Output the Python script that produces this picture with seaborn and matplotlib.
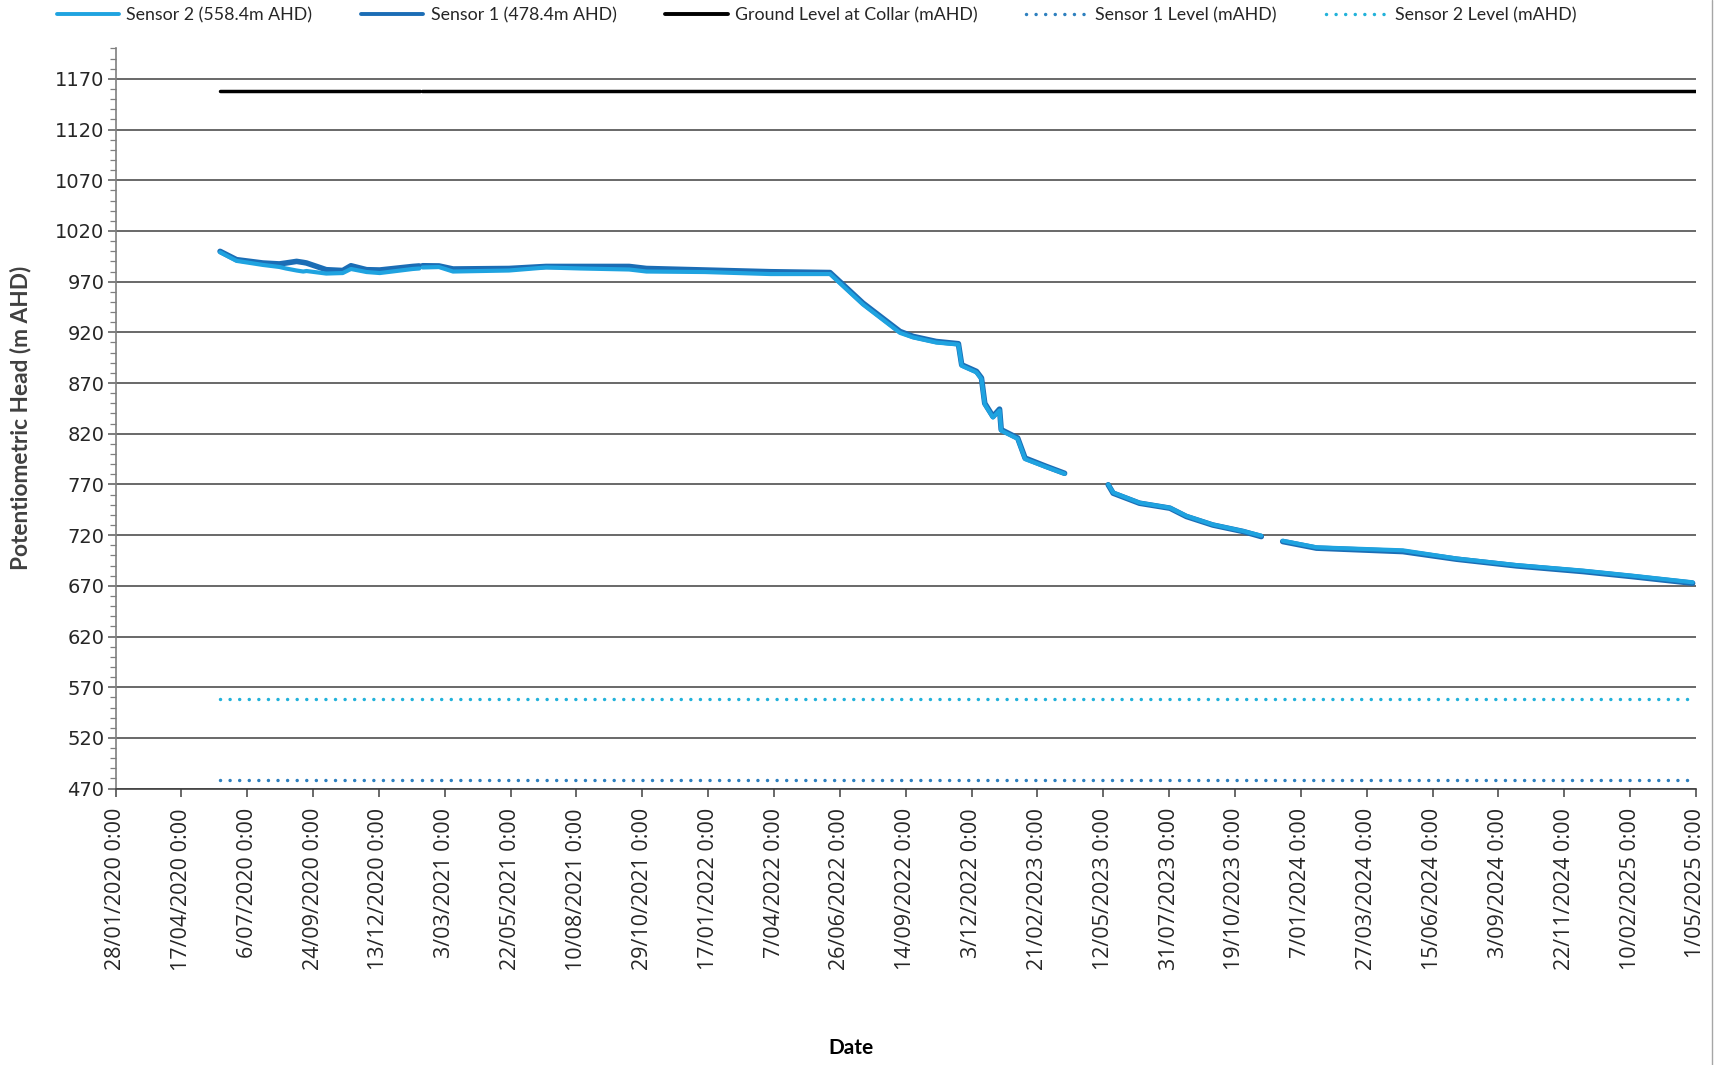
import pandas as pd
import numpy as np
import matplotlib
matplotlib.use('Agg')
import matplotlib.pyplot as plt
from matplotlib.lines import Line2D
from matplotlib.ticker import FixedLocator, MultipleLocator
import seaborn as sns

# Readings taken off the logger plot (None = logger gap)
reading_dates = [
    '2020-06-03', '2020-06-23', '2020-07-25', '2020-08-14', '2020-08-22', '2020-09-04',
    '2020-09-12', '2020-09-16', '2020-10-10', '2020-10-30', '2020-11-09', '2020-11-28',
    '2020-12-14', '2021-01-23', '2021-01-31',
    '2021-02-02',
    '2021-02-04', '2021-02-24', '2021-03-13', '2021-05-20', '2021-07-04', '2021-08-15',
    '2021-10-13', '2021-11-03', '2022-01-13', '2022-04-03', '2022-06-14', '2022-07-24',
    '2022-09-07', '2022-09-23', '2022-10-21', '2022-11-17', '2022-11-21', '2022-12-09',
    '2022-12-15', '2022-12-19', '2022-12-29', '2023-01-06', '2023-01-08', '2023-01-28',
    '2023-02-06', '2023-03-04', '2023-03-26',
    '2023-04-20',
    '2023-05-18', '2023-05-24', '2023-06-25', '2023-08-01', '2023-08-21', '2023-09-22',
    '2023-10-29', '2023-11-20',
    '2023-12-05',
    '2023-12-16', '2024-01-26', '2024-05-10', '2024-07-14', '2024-09-25', '2024-12-15',
    '2025-02-13', '2025-04-27',
]
sensor1_head = [
    999.9, 991.7, 988.4, 987.5, 988.4, 990.0,
    989.0, 988.4, 981.8, 981.0, 985.7, 981.8,
    981.5, 985.0, 985.5,
    None,
    985.7, 985.5, 982.5, 983.0, 985.0, 985.0,
    985.0, 983.0, 981.5, 979.8, 979.0, 948.9,
    920.9, 916.0, 911.0, 908.8, 888.0, 881.5,
    875.0, 850.0, 837.0, 844.3, 824.0, 815.8,
    796.0, 787.7, 781.0,
    None,
    769.7, 761.4, 751.5, 746.6, 738.4, 730.0,
    723.6, 718.6,
    None,
    713.7, 707.2, 703.8, 696.3, 689.7, 684.1,
    679.1, 672.6,
]
sensor2_head = [
    999.0, 990.5, 986.5, 984.5, 983.0, 981.0,
    980.0, 980.5, 978.0, 978.5, 982.5, 979.5,
    978.5, 982.5, 983.0,
    None,
    984.0, 984.4, 980.0, 981.0, 984.0, 983.0,
    982.0, 980.0, 979.5, 977.5, 977.5, 947.5,
    919.5, 915.0, 910.0, 908.0, 887.0, 880.5,
    874.0, 849.0, 836.0, 843.0, 823.0, 815.0,
    795.0, 787.0, 780.5,
    None,
    770.0, 762.0, 752.0, 747.0, 739.0, 730.5,
    724.0, 719.5,
    None,
    714.5, 708.0, 705.0, 697.0, 690.5, 685.0,
    680.0, 673.5,
]

level_dates = ['2020-06-03', '2021-02-01', '2021-02-02', '2021-02-03', '2025-05-01']
ground_level = [1158.4, 1158.4, None, 1158.4, 1158.4]
sensor1_level = [478.4, 478.4, None, 478.4, 478.4]
sensor2_level = [558.4, 558.4, None, 558.4, 558.4]

tick_dates = [
    '28/01/2020', '17/04/2020', '6/07/2020', '24/09/2020', '13/12/2020', '3/03/2021',
    '22/05/2021', '10/08/2021', '29/10/2021', '17/01/2022', '7/04/2022', '26/06/2022',
    '14/09/2022', '3/12/2022', '21/02/2023', '12/05/2023', '31/07/2023', '19/10/2023',
    '7/01/2024', '27/03/2024', '15/06/2024', '3/09/2024', '22/11/2024', '10/02/2025',
    '1/05/2025',
]
y_ticks = [470, 520, 570, 620, 670, 720, 770, 820, 870, 920, 970, 1020, 1070, 1120, 1170]

s1_color = '#1b6db5'
s2_color = '#1fa3e0'
s1_level_color = '#2e80bf'
s2_level_color = '#22b2da'

sns.set_theme(style='white')
plt.rcParams['font.family'] = ['Lato', 'DejaVu Sans']


def to_frame(dates, values):
    df = pd.DataFrame({'date': pd.to_datetime(dates),
                       'head': pd.Series(values, dtype='float')})
    # each run between gaps is drawn as its own unit
    df['segment'] = df['head'].isna().cumsum()
    return df.dropna()


fig = plt.figure(figsize=(17.27, 10.65), dpi=100)
ax = fig.add_axes([0.0669, 0.2595, 0.9151, 0.695])

dot = (0, (0.01, 2.75))
sns.lineplot(data=to_frame(level_dates, sensor1_level), x='date', y='head', units='segment',
             estimator=None, color=s1_level_color, linewidth=2.5, linestyle=dot,
             dash_capstyle='round', ax=ax, legend=False)
sns.lineplot(data=to_frame(level_dates, sensor2_level), x='date', y='head', units='segment',
             estimator=None, color=s2_level_color, linewidth=2.5, linestyle=dot,
             dash_capstyle='round', ax=ax, legend=False)
sns.lineplot(data=to_frame(level_dates, ground_level), x='date', y='head', units='segment',
             estimator=None, color='black', linewidth=2.5, ax=ax, legend=False)
sns.lineplot(data=to_frame(reading_dates, sensor1_head), x='date', y='head', units='segment',
             estimator=None, color=s1_color, linewidth=4.0, ax=ax, legend=False)
sns.lineplot(data=to_frame(reading_dates, sensor2_head), x='date', y='head', units='segment',
             estimator=None, color=s2_color, linewidth=3.0, ax=ax, legend=False)

# axes
tick_pos = pd.to_datetime(tick_dates, dayfirst=True)
ax.set_xlim(tick_pos[0], tick_pos[-1])
ax.set_ylim(470, 1200)
ax.set_xticks(tick_pos)
ax.set_xticklabels([d + ' 0:00' for d in tick_dates], rotation=90,
                   fontfamily=['Open Sans', 'DejaVu Sans'], fontsize=15.5)
ax.yaxis.set_major_locator(FixedLocator(y_ticks))
ax.yaxis.set_minor_locator(MultipleLocator(10))
ax.set_yticklabels([str(v) for v in y_ticks], fontfamily='DejaVu Sans', fontsize=14)
ax.tick_params(axis='x', which='major', direction='out', length=6, width=1.1,
               color='#404040', pad=8, bottom=True)
ax.tick_params(axis='y', which='major', direction='out', length=6, width=1.1,
               color='#595959', pad=2, left=True)
ax.tick_params(axis='y', which='minor', direction='out', length=4, width=0.9,
               color='#7f7f7f', left=True)
ax.yaxis.grid(True, which='major', color='#404040', linewidth=1.1)
ax.xaxis.grid(False)
ax.set_axisbelow(True)
ax.set_xlabel('')
ax.set_ylabel('')
for side in ['top', 'right']:
    ax.spines[side].set_visible(False)
ax.spines['left'].set_color('#7f7f7f')
ax.spines['left'].set_linewidth(1.2)
ax.spines['bottom'].set_color('#404040')
ax.spines['bottom'].set_linewidth(1.2)

fig.text(0.0116, 0.6075, 'Potentiometric Head (m AHD)', rotation=90, ha='center',
         va='center', fontsize=16.3, fontweight='bold', color='#404040')
fig.text(0.4928, 0.016, 'Date', ha='center', va='center', fontsize=15,
         fontweight='bold', color='black')

handles = [
    Line2D([], [], color=s2_color, linewidth=2.8, label='Sensor 2 (558.4m AHD)'),
    Line2D([], [], color=s1_color, linewidth=2.8, label='Sensor 1 (478.4m AHD)'),
    Line2D([], [], color='black', linewidth=2.8, label='Ground Level at Collar (mAHD)'),
    Line2D([], [], color=s1_level_color, linewidth=2.5, linestyle=dot,
           dash_capstyle='round', label='Sensor 1 Level (mAHD)'),
    Line2D([], [], color=s2_level_color, linewidth=2.5, linestyle=dot,
           dash_capstyle='round', label='Sensor 2 Level (mAHD)'),
]
fig.legend(handles=handles, loc='upper left', bbox_to_anchor=(0.033, 0.993), ncol=5,
           frameon=False, handlelength=3.5, handletextpad=0.4, columnspacing=2.75,
           borderpad=0, borderaxespad=0, prop={'family': 'Lato', 'size': 12.8})

# chart area border on the right
fig.add_artist(Line2D([0.9913, 0.9913], [0, 1], transform=fig.transFigure,
                      color='#a6a6a6', linewidth=1))

fig.savefig('out.png', dpi=100)
